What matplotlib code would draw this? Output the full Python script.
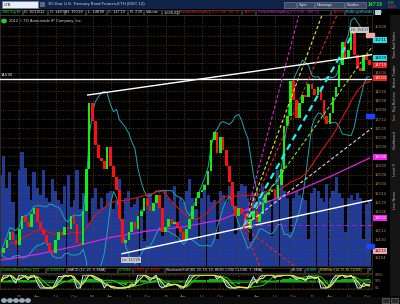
import numpy as np
import pandas as pd
import matplotlib
matplotlib.use('Agg')
import matplotlib.pyplot as plt
from matplotlib.patches import Rectangle

plt.rcParams['font.family'] = ['Liberation Sans', 'DejaVu Sans']

# semi-monthly closes of the 30-year T-bond future, Oct 2007 - Oct 2012
closes = [112.0, 113.0, 114.5, 116.0, 114.5, 113.5,
          116.5, 119.0, 118.0, 117.0, 119.5, 120.5, 118.0, 116.5, 115.5, 114.0, 112.5, 112.0,
          114.5, 116.0, 115.5, 117.0, 116.5, 119.0, 117.5, 114.0, 113.5, 120.0, 128.0, 140.5,
          137.0, 132.5, 130.0, 129.5, 128.0, 132.0, 128.5, 126.5, 124.0, 118.5, 114.0, 114.5,
          116.0, 118.0, 116.5, 119.0, 120.0, 122.5, 121.0, 120.0, 121.5, 123.0, 120.5, 116.0,
          117.0, 118.5, 117.5, 118.0, 117.0, 116.0, 114.5, 116.5, 118.5, 121.0, 122.5, 123.5,
          124.0, 125.0, 127.5, 133.5, 135.0, 131.0, 134.0, 131.5, 128.5, 125.5, 121.0, 119.0,
          120.5, 119.5, 117.5, 116.5, 118.5, 120.0, 118.0, 119.5, 121.5, 123.0, 123.5, 124.0,
          122.5, 125.0, 128.0, 136.0, 138.0, 144.5, 141.0, 137.5, 140.5, 142.0, 141.5, 144.0,
          143.0, 142.0, 143.5, 141.0, 138.0, 136.5, 138.5, 141.5, 143.5, 147.5, 152.0, 149.0,
          150.5, 154.5, 149.5, 147.0, 146.5, 149.5, 148.5, 147.6]

# volume, thousands of contracts
volume = [400, 480, 340, 410, 280, 140,
          420, 500, 430, 350, 290, 410, 340, 310, 420, 300, 280, 380, 330, 290, 270, 350, 400, 260,
          290, 420, 250, 320, 270, 190,
          300, 340, 250, 300, 260, 320, 330, 250, 280, 380, 120, 300, 330, 260, 270, 300, 250, 110,
          290, 320, 250, 280, 300, 130,
          330, 300, 280, 350, 120, 300, 280, 330, 380, 300, 250, 120, 300, 360, 310, 280, 290, 120,
          330, 310, 280, 350, 300, 140,
          330, 360, 350, 300, 110, 320, 280, 300, 350, 330, 290, 130, 300, 420, 380, 330, 300, 150,
          300, 330, 310, 300, 290, 120,
          320, 340, 330, 300, 280, 360, 300, 330, 390, 320, 300, 150, 300, 310, 290, 320, 300, 120,
          270, 290]

# 200-period simple moving average (magenta)
sma200_dates = ['2007-10-01', '2008-04-01', '2008-10-01', '2009-04-01', '2009-10-01', '2010-04-01',
                '2010-10-01', '2011-04-01', '2011-10-01', '2012-04-01', '2012-10-15']
sma200_vals = [110.7, 111.8, 113.3, 115.0, 116.2, 117.0, 118.3, 121.0, 123.5, 126.5, 130.0]

# drawn lines
resist_price = 144.94
upper_trend_dates = ['2008-12-08', '2012-10-27']
upper_trend_prices = [141.92, 149.55]
lower_trend_dates = ['2009-05-28', '2012-10-27']
lower_trend_prices = [111.92, 122.07]
gray_trend_dates = ['2011-01-23', '2012-10-27']
gray_trend_prices = [116.97, 135.68]
fan_origin_date = '2011-01-23'
fan_origin_price = 116.97
fan_end_dates = ['2011-10-28', '2012-02-20', '2012-05-05', '2012-08-03', '2012-10-27',
                 '2011-04-17', '2011-10-13']
fan_end_prices = [157.0, 157.0, 157.0, 154.2, 151.0, 109.4, 109.4]
fan_base_price = 117.35

# price boxes on the axis
axis_box_prices = [152.34, 148.9, 147.59, 145.1, 130.2, 118.7, 112.4]
axis_box_colors = ['#22e0e8', '#22e0e8', '#ee2020', '#ee2020', '#ee22ee', '#ee22ee', '#f2a8a8']

# oscillator scale labels
osc_levels = [0, 50, 100]

W, H = 400, 304


def rect(x0, y0, x1, y1):
    return [x0 / W, 1 - y1 / H, (x1 - x0) / W, (y1 - y0) / H]


def fmt32(p, pos=None):
    whole = int(np.floor(p))
    t = int(round((p - whole) * 32))
    if t == 32:
        whole, t = whole + 1, 0
    return f"{whole}'{t:02d}"


def axis_fmt(p, pos=None):
    # boxes on the axis cover the plain labels
    if any(abs(p - b) < 1.0 for b in axis_box_prices):
        return ''
    return fmt32(p)


dates = pd.date_range('2007-10-01', periods=len(closes), freq='SMS')
s = pd.Series(closes, index=dates)
opens = [closes[0]] + closes[:-1]
xmin, xmax = pd.Timestamp('2007-09-27'), pd.Timestamp('2012-10-27')
quarters = pd.date_range('2008-01-01', '2012-10-01', freq='QS')

fig = plt.figure(figsize=(4, 3.04), dpi=100, facecolor='black')

# ---- main price panel, volume underneath
vax = fig.add_axes(rect(0, 15, 372, 266))
vax.set_facecolor('black')
vax.bar(dates, volume, width=16, color='#1f3b97', linewidth=0)
vax.set_ylim(0, 1100)
vax.set_xlim(xmin, xmax)
vax.axis('off')

ax = fig.add_axes(rect(0, 15, 372, 266))
ax.patch.set_visible(False)
ax.set_ylim(109.6, 157.04)
ax.set_xlim(xmin, xmax)

price_ticks = np.arange(154.875, 109.6, -1.75)
ax.set_xticks(quarters)
ax.set_xticklabels([])
ax.set_yticks(price_ticks)
ax.yaxis.tick_right()
ax.yaxis.set_major_formatter(plt.FuncFormatter(axis_fmt))
ax.tick_params(axis='y', labelsize=3, colors='#b08c5a', length=0, pad=2)
ax.tick_params(axis='x', labelbottom=False, length=0)
ax.grid(True, color='#6a4614', linestyle=(0, (1, 2)), linewidth=0.6)
for sp in ax.spines.values():
    sp.set_color('#3a2c18')
    sp.set_linewidth(0.6)

# moving averages / bands
mid = s.rolling(10, min_periods=1).mean()
sd = s.rolling(10, min_periods=2).std().fillna(0)
ax.plot(dates, mid + 1.7 * sd, color='#1fa4b4', lw=0.7)
ax.plot(dates, mid - 1.7 * sd, color='#1fa4b4', lw=0.7)
ax.plot(dates, s.rolling(26, min_periods=1).mean(), color='#dd1414', lw=0.8)
ax.plot(pd.to_datetime(sma200_dates), sma200_vals, color='#e020e0', lw=0.9)

# candles
up = [c >= o for o, c in zip(opens, closes)]
ax.bar(dates, np.subtract(closes, opens), bottom=opens, width=13,
       color=['#12ee12' if u else '#ff1010' for u in up], linewidth=0, zorder=3)

# drawn lines
ax.axhline(resist_price, color='white', lw=1.0, zorder=4)
ax.plot(pd.to_datetime(upper_trend_dates), upper_trend_prices, color='white', lw=1.0, zorder=4)
ax.plot(pd.to_datetime(lower_trend_dates), lower_trend_prices, color='white', lw=1.0, zorder=4)
ax.plot(pd.to_datetime(gray_trend_dates), gray_trend_prices, color='#d8d8d8', lw=0.8,
        ls=(0, (3, 2)), zorder=4)
fan_colors = ['#e020e0', '#e8e820', '#ee2020', '#20f0f0', '#90dd20', '#ee2020', '#ee2020']
fan_widths = [0.8, 0.8, 0.8, 1.6, 0.8, 0.8, 0.8]
o_date = pd.Timestamp(fan_origin_date)
for d, p, c, w in zip(fan_end_dates, fan_end_prices, fan_colors, fan_widths):
    ax.plot([o_date, pd.Timestamp(d)], [fan_origin_price, p], color=c, lw=w,
            ls=(0, (3, 2)), zorder=4)
ax.plot([o_date, xmax], [fan_base_price, fan_base_price], color='#b020b0', lw=0.8,
        ls=(0, (4, 3)), zorder=4)

ax.text(pd.Timestamp('2007-10-02'), resist_price + 0.4, fmt32(resist_price), color='white',
        fontsize=3, va='bottom', ha='left')
box = dict(boxstyle='square,pad=0.2', fc='#c8c8c8', ec='none')
ax.text(pd.Timestamp('2012-07-12'), 154.2, "Hi: 154'27", fontsize=2.8, color='#333333',
        bbox=box, va='center', ha='left', zorder=6)
ax.text(pd.Timestamp('2009-05-28'), 110.7, "Lo: 112'20", fontsize=2.8, color='#333333',
        bbox=box, va='center', ha='left', zorder=6)

ytr = ax.get_yaxis_transform()
for p, c in zip(axis_box_prices, axis_box_colors):
    tc = '#101010' if c in ('#22e0e8', '#f2a8a8') else 'white'
    ax.text(1.006, p, fmt32(p), transform=ytr, fontsize=3, color=tc, va='center', ha='left',
            bbox=dict(boxstyle='square,pad=0.2', fc=c, ec='none'), clip_on=False, zorder=7)
for p, c in [(138.0, '#2040ff'), (113.4, '#2040ff'), (153.3, '#f2a8a8')]:
    ax.add_patch(Rectangle((0.985, p - 0.35), 0.02, 0.7, transform=ytr, color=c,
                           clip_on=False, zorder=7))

# ---- lower indicator panel
iax = fig.add_axes(rect(0, 274, 372, 289))
iax.set_facecolor('black')
lo7 = s.rolling(7, min_periods=1).min()
hi7 = s.rolling(7, min_periods=1).max()
k = (100 * (s - lo7) / (hi7 - lo7).replace(0, np.nan)).fillna(50)
lo14 = s.rolling(14, min_periods=1).min()
hi14 = s.rolling(14, min_periods=1).max()
k14 = (100 * (s - lo14) / (hi14 - lo14).replace(0, np.nan)).fillna(50)
vol = pd.Series(volume, index=dates, dtype=float)
flow = (s.diff().fillna(0) * vol).rolling(6, min_periods=1).sum() / vol.rolling(6, min_periods=1).sum()
iax.bar(dates, flow * 8, bottom=50, width=16, color='#10b010', linewidth=0)
iax.bar(dates, 30, bottom=35, width=16, color='#0c5a0c', linewidth=0, zorder=0)
iax.plot(dates, k14.rolling(3, min_periods=1).mean(), color='#20d020', lw=0.7)
iax.plot(dates, k.rolling(2, min_periods=1).mean(), color='#20b8c8', lw=0.6)
iax.plot(dates, k, color='#e8e8e8', lw=0.7)
iax.plot(dates, k.rolling(3, min_periods=1).mean(), color='#f0f020', lw=0.8)
iax.set_ylim(-8, 108)
iax.set_xlim(xmin, xmax)
iax.set_yticks(osc_levels)
iax.tick_params(axis='y', labelleft=False, labelright=False, length=0)
iax.set_xticks(quarters)
iax.set_xticklabels([q.strftime('%y') if q.month == 1 else q.strftime('%b') for q in quarters])
iax.tick_params(axis='x', labelsize=3.2, colors='#a08460', length=0, pad=4)
iax.grid(True, color='#6a4614', linestyle=(0, (1, 2)), linewidth=0.6)
for sp in iax.spines.values():
    sp.set_color('#3a2c18')
    sp.set_linewidth(0.6)
itr = iax.get_yaxis_transform()
for lev in osc_levels:
    iax.text(1.008, lev, f'{lev}%', transform=itr, fontsize=2.4, color='#b08c5a',
             va='center', ha='left', clip_on=False)


# ---- chrome: toolbars and header boxes
def frect(x0, y0, x1, y1, fc, ec='none', lw=0.5):
    fig.add_artist(Rectangle((x0 / W, 1 - y1 / H), (x1 - x0) / W, (y1 - y0) / H,
                             transform=fig.transFigure, fc=fc, ec=ec, lw=lw))


def ftext(x, y, t, c, size=3, **kw):
    fig.text(x / W, 1 - y / H, t, color=c, fontsize=size, va='center', **kw)


frect(0, 0, 400, 9, '#10244a')
frect(2, 1.5, 38, 7.5, '#e8ecf4', ec='#7080a0')
ftext(4, 4.5, '/ZB', '#202020')
frect(40, 2, 45, 7, '#5a6a8a')
ftext(48, 4.5, '30-Year U.S. Treasury Bond Futures,ETH (DEC 12)', '#c8d6f0', 3.1)
for x0, x1, t in [(284, 296, ''), (297, 314, 'Style'), (315, 344, 'Drawings'), (345, 366, 'Studies')]:
    frect(x0, 2, x1, 7.5, '#3c4a66', ec='#6a7896')
    ftext(x0 + 2, 4.8, t, '#e0e6f0', 2.8)
ftext(368, 4.5, "147'19", '#22ee22', 3.6, fontweight='bold')
ftext(388, 3, "-0'23", '#22ee22', 2.2)
ftext(388, 6.5, '-0.48%', '#ee3030', 2.2)

hdr = [("30B Sig W", 0, 22, '#30e030'), ("D: 10/16/12", 23, 47, '#e8e8e8'),
       ("O: 149'30", 48, 64, '#e8e8e8'), ("H: 150'28", 65, 85, '#e8e8e8'),
       ("L: 148'08", 86, 106, '#e8e8e8'), ("C: 147'19", 107, 127, '#e8e8e8'),
       ("R: 2'20", 128, 143, '#e8e8e8'), ("Volume", 144, 161, '#e8e8e8'),
       ("1,608,027", 162, 177, '#e8e8e8'), ("SimpleMovingAvg (CLOSE, 60, 0)", 178, 241, '#ee2020'),
       ("146'07", 242, 255, '#ee2020'), ("SimpleMovingAvg (CLOSE, 200, 0)", 256, 330, '#e020e0'),
       ("129'29", 331, 344, '#ee2020'), ("BollingerBands (CLA", 345, 373, '#20d8e8')]
for t, x0, x1, c in hdr:
    frect(x0, 9.5, x1, 15, 'black', ec='#4a4a4a')
    ftext(x0 + 1.5, 12.3, t, c, 2.8)
frect(375, 9.5, 381, 15, '#d0d0d0')

fig.add_artist(plt.Circle((4 / W, 1 - 21 / H), 2.2 / W, transform=fig.transFigure, color='#30c030'))
ftext(9, 21, '2012 \u00a9 TD Ameritrade IP Company, Inc.', '#d0d0d0', 3)

ind = [("ChaikinMoneyFlow (21)", 0, 45, '#30e030', 2.6), ("-0.0026979", 46, 66, '#30e030', 2.6),
       ("MACD (12, 26, 9, EMA)", 67, 117, '#e8e8e8', 2.6), ("0.76566", 118, 132, '#30e030', 2.6),
       ("1.3668", 133, 145, '#ee2020', 2.6), ("-0.42680", 146, 164, '#ee2020', 2.6),
       ("StochasticFull (80, 20, 10, 10, HIGH, LOW, CLOSE, 3, SMA)", 165, 290, '#e8e8e8', 2.6),
       ("60.316", 291, 304, '#e8e8e8', 2.6), ("40.889", 305, 318, '#20d8e8', 2.6),
       ("RSIWilder (14, 70, 30, CLOSE)", 319, 367, '#f0f020', 2.15), ("5", 368, 372, '#e8e8e8', 2.4)]
for t, x0, x1, c, fs in ind:
    frect(x0, 267.5, x1, 273, 'black', ec='#4a4a4a')
    ftext(x0 + 1.0, 270.3, t, c, fs)

# right-hand tabs
frect(390, 15, 400, 296, '#141414')
for yc, t, c in [(45, 'Time And Sales', '#b0b0b0'), (76, 'Active Trader', '#b0b0b0'),
                 (101, 'Big Buttons', '#b0b0b0'), (116, 'Live', '#e09020'),
                 (140, 'Dashboard', '#b0b0b0'), (170, 'Level II', '#b0b0b0'),
                 (200, 'Live News', '#b0b0b0')]:
    fig.text(395 / W, 1 - yc / H, t, color=c, fontsize=2.8, rotation=90, ha='center', va='center')

# bottom toolbar
frect(0, 297, 400, 304, '#0c0c0c')
for i in range(5):
    fig.add_artist(plt.Circle(((4 + 6 * i) / W, 1 - 300.5 / H), 2.2 / W,
                              transform=fig.transFigure, color='#9aa8c0'))
frect(382, 298, 389, 303, '#2a2a2a', ec='#6a6a6a')
frect(391, 298, 398, 303, '#2a2a2a', ec='#6a6a6a')

fig.savefig('out.png', dpi=100, facecolor='black')
